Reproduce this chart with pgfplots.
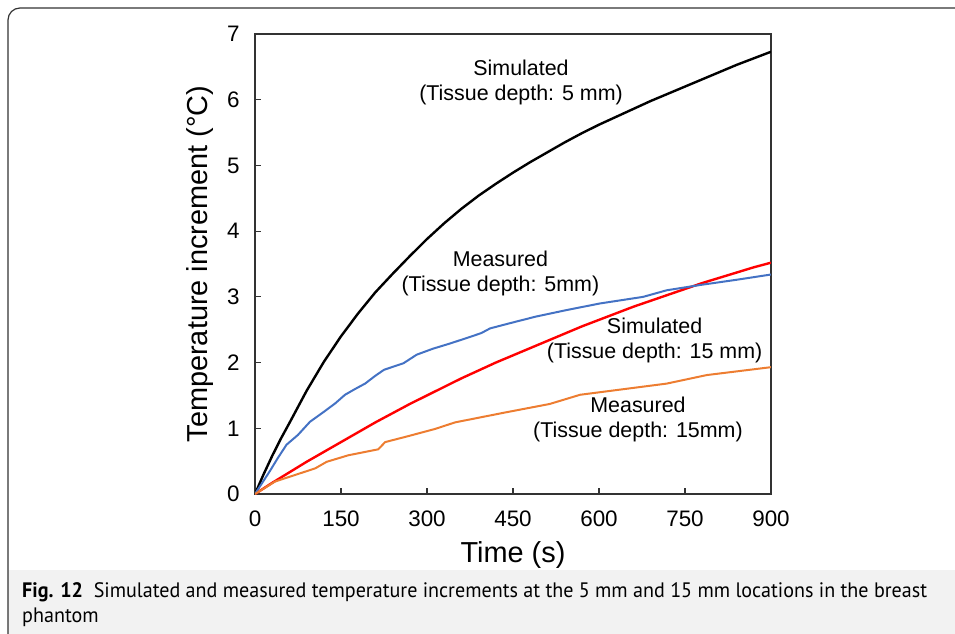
\documentclass[border=0pt]{standalone}
\usepackage{pgfplots}
\pgfplotsset{compat=1.18}
\usepackage{fontspec}
\setmainfont{Liberation Sans}
\newfontfamily\capfont[FakeStretch=0.96]{PT Sans}
\definecolor{mblue}{HTML}{4472C4}
\definecolor{morange}{HTML}{ED7D31}

\begin{document}
\begin{tikzpicture}
\useasboundingbox (0,0) rectangle (955bp,-634bp);
\clip (0,0) rectangle (955bp,-634bp);
% caption band and frame
\fill[black!5] (8bp,-570bp) rectangle (960bp,-640bp);
\draw[black!80, line width=1.2bp, rounded corners=12bp] (8bp,-660bp) -- (8bp,-8bp) -- (975bp,-8bp);
\node[anchor=base west, inner sep=0pt, font=\capfont\fontsize{21}{25}\selectfont] at (22bp,-597bp)
  {\textbf{Fig. 12}\ \ Simulated and measured temperature increments at the 5 mm and 15 mm locations in the breast};
\node[anchor=base west, inner sep=0pt, font=\capfont\fontsize{21}{25}\selectfont] at (22bp,-622bp) {phantom};

\begin{axis}[
    at={(255bp,-494bp)}, anchor=south west,
    width=516bp, height=460bp, scale only axis,
    xmin=0, xmax=900, ymin=0, ymax=7,
    xtick={0,150,300,450,600,750,900},
    ytick={0,1,2,3,4,5,6,7},
    tick align=inside, tick pos=left,
    major tick length=6bp,
    axis line style={black!80, line width=1.2bp},
    tick style={black!80, line width=1.2bp},
    /pgf/number format/assume math mode=true,
    ticklabel style={font=\fontsize{22.5}{26}\selectfont},
    xticklabel style={yshift=-13bp},
    yticklabel style={xshift=-12bp},
    xlabel={Time (s)}, ylabel={Temperature increment (°C)},
    label style={font=\fontsize{29}{34}\selectfont},
    xlabel style={at={(axis description cs:0.5,-0.132)}, anchor=center},
    ylabel style={at={(axis description cs:-0.107,0.5)}, anchor=center},
]
% Simulated, 5 mm
\addplot[black, line width=2.4bp] coordinates {
(0,0) (15,0.30) (30,0.58) (45,0.84) (60,1.08) (90,1.57) (120,2.01) (150,2.40)
(180,2.75) (210,3.07) (240,3.35) (270,3.62) (300,3.88) (330,4.12) (360,4.34)
(390,4.54) (420,4.72) (450,4.89) (480,5.05) (510,5.20) (540,5.35) (570,5.49)
(600,5.62) (630,5.74) (660,5.86) (690,5.98) (720,6.09) (750,6.20) (780,6.31)
(810,6.42) (840,6.53) (870,6.63) (900,6.73)};
% Simulated, 15 mm
\addplot[red, line width=2.4bp] coordinates {
(0,0) (30,0.17) (60,0.33) (90,0.49) (120,0.64) (150,0.79) (180,0.94) (210,1.09)
(240,1.23) (270,1.37) (300,1.50) (330,1.63) (360,1.76) (390,1.88) (420,2.00)
(450,2.11) (480,2.22) (510,2.33) (540,2.44) (570,2.55) (600,2.65) (630,2.75)
(660,2.85) (690,2.94) (720,3.03) (750,3.12) (780,3.21) (810,3.29) (840,3.37)
(870,3.45) (900,3.52)};
% Measured, 5 mm
\addplot[mblue, line width=2bp] coordinates {
(0,0) (26,0.35) (40,0.55) (55,0.75) (75,0.90) (96,1.10) (120,1.25) (140,1.38)
(157,1.51) (175,1.60) (192,1.68) (210,1.80) (225,1.89) (259,1.99) (282,2.12)
(310,2.21) (340,2.29) (375,2.39) (395,2.45) (410,2.52) (445,2.60) (490,2.70)
(544,2.80) (602,2.90) (677,3.00) (718,3.10) (776,3.18) (840,3.26) (900,3.34)};
% Measured, 15 mm
\addplot[morange, line width=2bp] coordinates {
(0,0) (35,0.19) (105,0.39) (125,0.49) (163,0.59) (215,0.68) (227,0.79)
(267,0.88) (314,0.99) (349,1.09) (436,1.24) (514,1.37) (567,1.51) (718,1.68)
(788,1.81) (900,1.93)};

\node[align=center, font=\fontsize{21.5}{25}\selectfont] at (axis cs:464,6.26) {Simulated\\(Tissue depth: 5 mm)};
\node[align=center, font=\fontsize{21.5}{25}\selectfont] at (axis cs:428,3.35) {Measured\\(Tissue depth: 5mm)};
\node[align=center, font=\fontsize{21.5}{25}\selectfont] at (axis cs:697,2.33) {Simulated\\(Tissue depth: 15 mm)};
\node[align=center, font=\fontsize{21.5}{25}\selectfont] at (axis cs:668,1.13) {Measured\\(Tissue depth: 15mm)};
\end{axis}
\end{tikzpicture}
\end{document}
